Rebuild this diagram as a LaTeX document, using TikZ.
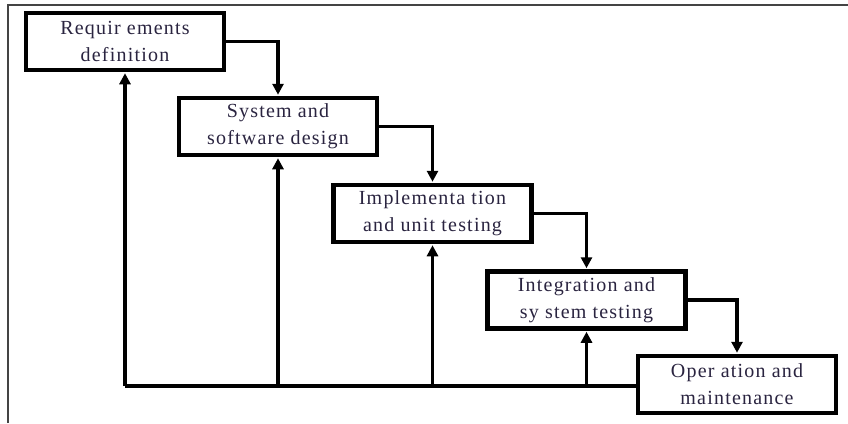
\documentclass[tikz,border=0pt]{standalone}
\usepackage{fontspec}
\setmainfont{Liberation Serif}[LetterSpace=6]
\usetikzlibrary{arrows.meta}
\definecolor{txt}{HTML}{2A2440}
\definecolor{frame}{HTML}{444444}
\tikzset{
  stage/.style={draw=black, line width=4.5pt, fill=white, minimum width=198pt, minimum height=57pt,
    inner sep=0pt, align=center, text=txt, font=\fontsize{20}{27}\selectfont},
  link/.style={draw=black, line width=3.2pt},
  arr/.style={link, -{Triangle[width=11pt,length=11pt]}, shorten >=1pt},
}
\begin{document}
\begin{tikzpicture}[x=1pt,y=-1pt]
\useasboundingbox (0,0) rectangle (848,423);
\draw[frame, line width=2pt] (8,423) -- (8,5) -- (848,5);
\node[stage] (req) at (125,41.5) {Requir ements\\definition};
\node[stage] (sys) at (278,126.5) {System and\\software design};
\node[stage] (imp) at (432.5,213.5) {Implementa tion\\and unit testing};
\node[stage] (int) at (586.5,300) {Integration and\\sy stem testing};
\node[stage] (ope) at (737,384.5) {Oper ation and\\maintenance};
\coordinate (base) at (0,386);
% forward flow
\draw[arr] (req.east) -| (sys.north);
\draw[arr] (sys.east) -| (imp.north);
\draw[arr] (imp.east) -| (int.north);
\draw[arr] (int.east) -| (ope.north);
% feedback
\draw[link] (ope.west |- base) -- (req.south |- base);
\draw[arr] (req.south |- base) -- (req.south);
\draw[arr] (sys.south |- base) -- (sys.south);
\draw[arr] (imp.south |- base) -- (imp.south);
\draw[arr] (int.south |- base) -- (int.south);
\end{tikzpicture}
\end{document}
